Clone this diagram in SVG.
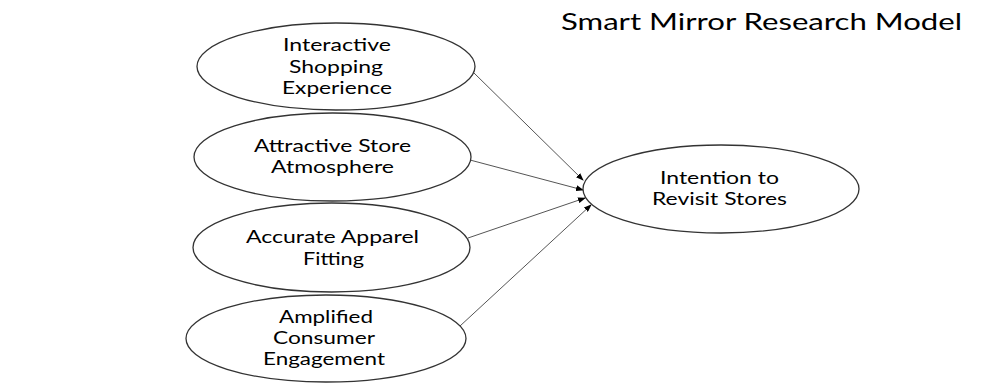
<svg xmlns="http://www.w3.org/2000/svg" width="998" height="383" viewBox="0 0 998 383">
<style>
.node{fill:#fff;stroke:#333;stroke-width:1.3}
.lbl{font-family:Lato,"Liberation Sans",sans-serif;font-size:17px;fill:#000;text-anchor:middle}
.title{font-family:Lato,"Liberation Sans",sans-serif;font-size:23px;fill:#000}
.edge{stroke:#555;stroke-width:1;fill:none;marker-end:url(#ah)}
</style>
<defs>
<marker id="ah" markerWidth="8" markerHeight="6" refX="7" refY="3" orient="auto" markerUnits="userSpaceOnUse">
<path d="M0,0 L8,3 L0,6 z" fill="#000"/>
</marker>
</defs>
<rect width="998" height="383" fill="#fff"/>
<text class="title" x="561" y="30" textLength="401" lengthAdjust="spacingAndGlyphs">Smart Mirror Research Model</text>
<g id="connectors">
<line class="edge" x1="474" y1="73" x2="583" y2="180"/>
<line class="edge" x1="470" y1="160" x2="583" y2="190"/>
<line class="edge" x1="468" y1="238" x2="585" y2="198"/>
<line class="edge" x1="460" y1="326" x2="591" y2="205"/>
</g>
<g id="n1">
<ellipse class="node" cx="336" cy="66.5" rx="139" ry="43.5"/>
<text class="lbl" x="337" y="51" textLength="108" lengthAdjust="spacingAndGlyphs">Interactive</text>
<text class="lbl" x="336" y="73" textLength="94" lengthAdjust="spacingAndGlyphs">Shopping</text>
<text class="lbl" x="337" y="94" textLength="110" lengthAdjust="spacingAndGlyphs">Experience</text>
</g>
<g id="n2">
<ellipse class="node" cx="332.5" cy="157" rx="138.5" ry="44"/>
<text class="lbl" x="332.5" y="152" textLength="157" lengthAdjust="spacingAndGlyphs">Attractive Store</text>
<text class="lbl" x="332.5" y="173" textLength="123" lengthAdjust="spacingAndGlyphs">Atmosphere</text>
</g>
<g id="n3">
<ellipse class="node" cx="331.5" cy="247.5" rx="138.5" ry="44.5"/>
<text class="lbl" x="332.5" y="243" textLength="173" lengthAdjust="spacingAndGlyphs">Accurate Apparel</text>
<text class="lbl" x="333.5" y="265" textLength="61" lengthAdjust="spacingAndGlyphs">Fitting</text>
</g>
<g id="n4">
<ellipse class="node" cx="326" cy="338.5" rx="140" ry="43.5"/>
<text class="lbl" x="326" y="323" textLength="94" lengthAdjust="spacingAndGlyphs">Amplified</text>
<text class="lbl" x="324" y="344" textLength="102" lengthAdjust="spacingAndGlyphs">Consumer</text>
<text class="lbl" x="324" y="365" textLength="122" lengthAdjust="spacingAndGlyphs">Engagement</text>
</g>
<g id="target">
<ellipse class="node" cx="721" cy="189" rx="138" ry="44"/>
<text class="lbl" x="719.5" y="184" textLength="119" lengthAdjust="spacingAndGlyphs">Intention to</text>
<text class="lbl" x="719.5" y="205" textLength="135" lengthAdjust="spacingAndGlyphs">Revisit Stores</text>
</g>
</svg>
